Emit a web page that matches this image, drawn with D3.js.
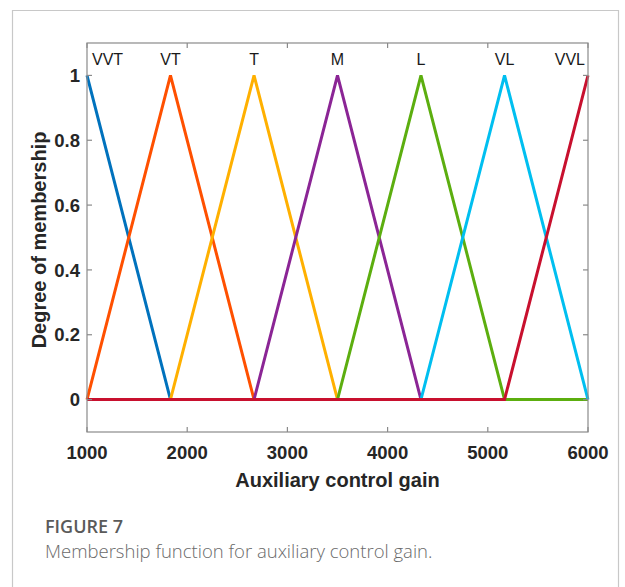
<!DOCTYPE html>
<html>
<head>
<meta charset="utf-8">
<script src="https://cdn.jsdelivr.net/npm/d3@7"></script>
<style>
  html, body { margin: 0; padding: 0; background: #fff; }
  svg { display: block; }
</style>
</head>
<body>
<div id="chart"></div>
<script>
// ── Data ──
const mfNames  = ["VVT", "VT", "T", "M", "L", "VL", "VVL"];
// trimf params [a, b, c] per set
const mfParams = [
  [167, 1000, 1833],
  [1000, 1833, 2667],
  [1833, 2667, 3500],
  [2667, 3500, 4333],
  [3500, 4333, 5167],
  [4333, 5167, 6000],
  [5167, 6000, 6833],
];
const mfColors = ["#0072bd", "#ff5000", "#ffb000", "#8b2595", "#5cae0f", "#00bff0", "#c8102e"];
const xTicks = [1000, 2000, 3000, 4000, 5000, 6000];
const yTicks = [0, 0.2, 0.4, 0.6, 0.8, 1];
const xDomain = [1000, 6000];
const yDomain = [-0.1, 1.1];

const W = 625, H = 587;
const M = { left: 87, top: 43, right: 588, bottom: 432 };

const svg = d3.select("#chart").append("svg")
  .attr("width", W).attr("height", H);

// Figure frame
svg.append("path")
  .attr("d", `M12.5,${H + 2}V10.5H618.5V${H + 2}`)
  .attr("fill", "none").attr("stroke", "#c8c8c8").attr("stroke-width", 1.2);

const x = d3.scaleLinear().domain(xDomain).range([M.left, M.right]);
const y = d3.scaleLinear().domain(yDomain).range([M.bottom, M.top]);

// membership value of trimf at v
function trimf(v, [a, b, c]) {
  if (v <= a || v >= c) return v === b ? 1 : 0;
  return v <= b ? (v - a) / (b - a) : (c - v) / (c - b);
}

const axisColor = "#8a8a8a";
const tickFont = "'Liberation Sans', Arial, Helvetica, sans-serif";

// ── Lines ── (clipped to axes)
svg.append("clipPath").attr("id", "clip")
  .append("rect").attr("x", M.left - 2).attr("y", M.top)
  .attr("width", M.right - M.left + 4).attr("height", M.bottom - M.top);

const lineGen = d3.line().x(d => x(d[0])).y(d => y(d[1]));
const lines = svg.append("g").attr("clip-path", "url(#clip)");
mfParams.forEach((p, i) => {
  const xs = [xDomain[0], ...p, xDomain[1]]
    .filter(v => v >= xDomain[0] && v <= xDomain[1])
    .sort((a, b) => a - b);
  const pts = Array.from(new Set(xs)).map(v => [v, trimf(v, p)]);
  lines.append("path")
    .attr("d", lineGen(pts))
    .attr("fill", "none")
    .attr("stroke", mfColors[i])
    .attr("stroke-width", 3)
    .attr("stroke-linejoin", "miter");
});

// ── Axes box ──
const ax = svg.append("g");
ax.append("rect")
  .attr("x", M.left).attr("y", M.top)
  .attr("width", M.right - M.left).attr("height", M.bottom - M.top)
  .attr("fill", "none").attr("stroke", axisColor).attr("stroke-width", 1.2);

const tl = 5;
// x ticks bottom + top (inward)
xTicks.forEach(t => {
  ax.append("line").attr("x1", x(t)).attr("x2", x(t))
    .attr("y1", M.bottom).attr("y2", M.bottom - tl)
    .attr("stroke", axisColor).attr("stroke-width", 1.2);
  ax.append("line").attr("x1", x(t)).attr("x2", x(t))
    .attr("y1", M.top).attr("y2", M.top + tl)
    .attr("stroke", axisColor).attr("stroke-width", 1.2);
  ax.append("text").attr("x", x(t)).attr("y", M.bottom + 27)
    .attr("text-anchor", "middle")
    .attr("font-family", tickFont).attr("font-weight", "bold")
    .attr("font-size", 18.5).attr("fill", "#262626")
    .text(t);
});
// y ticks left + right
yTicks.forEach(t => {
  ax.append("line").attr("x1", M.left).attr("x2", M.left + tl)
    .attr("y1", y(t)).attr("y2", y(t))
    .attr("stroke", axisColor).attr("stroke-width", 1.2);
  ax.append("line").attr("x1", M.right).attr("x2", M.right - tl)
    .attr("y1", y(t)).attr("y2", y(t))
    .attr("stroke", axisColor).attr("stroke-width", 1.2);
  ax.append("text").attr("x", M.left - 7).attr("y", y(t))
    .attr("dy", "0.36em")
    .attr("text-anchor", "end")
    .attr("font-family", tickFont).attr("font-weight", "bold")
    .attr("font-size", 18.5).attr("fill", "#262626")
    .text(d3.format("~g")(t));
});

// Axis titles
svg.append("text")
  .attr("x", (M.left + M.right) / 2).attr("y", M.bottom + 55)
  .attr("text-anchor", "middle")
  .attr("font-family", tickFont).attr("font-weight", "bold")
  .attr("font-size", 20).attr("fill", "#262626")
  .text("Auxiliary control gain");

svg.append("text")
  .attr("transform", `translate(46,240) rotate(-90)`)
  .attr("text-anchor", "middle")
  .attr("font-family", tickFont).attr("font-weight", "bold")
  .attr("font-size", 20).attr("fill", "#262626")
  .text("Degree of membership");

// MF labels above peaks
mfNames.forEach((name, i) => {
  const peak = mfParams[i][1];
  let anchor = "middle", px = x(peak);
  if (i === 0) { anchor = "start"; px = x(peak) + 5; }
  if (i === mfNames.length - 1) { anchor = "end"; px = x(peak) - 3; }
  svg.append("text")
    .attr("x", px).attr("y", y(1) - 10)
    .attr("text-anchor", anchor)
    .attr("font-family", tickFont)
    .attr("font-size", 16).attr("fill", "#1a1a1a")
    .text(name);
});

// Caption
svg.append("text")
  .attr("x", 45).attr("y", 533)
  .attr("font-family", "'Open Sans', sans-serif").attr("font-weight", 600)
  .attr("font-size", 18).attr("fill", "#5a5a5a")
  .text("FIGURE 7");
svg.append("text")
  .attr("x", 45).attr("y", 558)
  .attr("font-family", "'Open Sans', sans-serif").attr("font-weight", 300)
  .attr("font-size", 18.5).attr("fill", "#6a6a6a")
  .text("Membership function for auxiliary control gain.");
</script>
</body>
</html>
